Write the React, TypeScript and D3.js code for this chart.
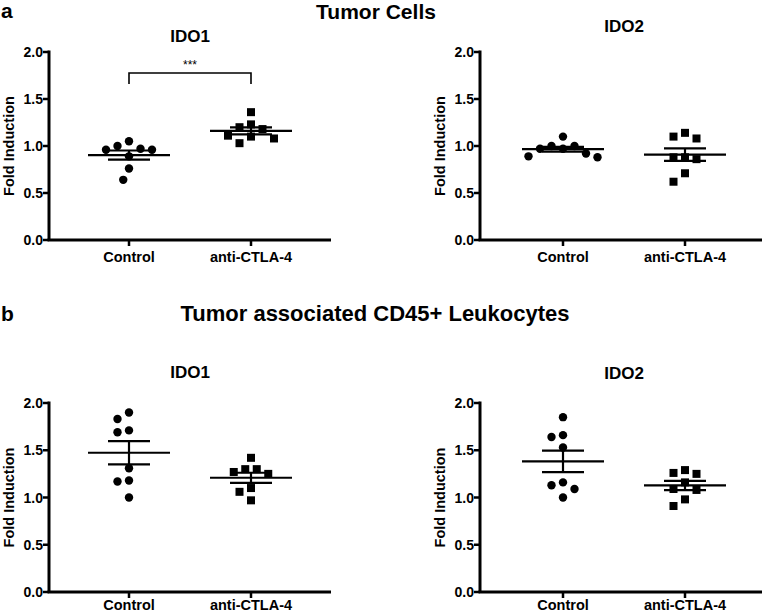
import React from 'react';
import * as d3 from 'd3';

// groups and axis ticks
const groups = ['Control', 'anti-CTLA-4'];
const yTicks = [0, 0.5, 1.0, 1.5, 2.0];

// fold induction values (8 mice per group)
const tumorIdo1Control = [1.05, 1.0, 0.96, 0.96, 0.97, 0.89, 0.76, 0.64];
const tumorIdo1Anti = [1.36, 1.2, 1.18, 1.23, 1.1, 1.03, 1.08, 1.11];
const tumorIdo2Control = [1.1, 1.0, 0.97, 0.92, 0.88, 0.89, 0.97, 1.0];
const tumorIdo2Anti = [1.14, 1.08, 1.1, 0.88, 0.86, 0.88, 0.71, 0.62];
const leukoIdo1Control = [1.9, 1.83, 1.71, 1.69, 1.31, 1.18, 1.17, 1.0];
const leukoIdo1Anti = [1.42, 1.3, 1.3, 1.25, 1.27, 1.1, 1.06, 0.97];
const leukoIdo2Control = [1.85, 1.66, 1.64, 1.53, 1.16, 1.09, 1.13, 1.0];
const leukoIdo2Anti = [1.29, 1.25, 1.26, 1.16, 1.09, 1.08, 0.98, 0.91];

const FONT = '"Liberation Sans", Arial, Helvetica, sans-serif';

const panels = [
    { key: 'a1', title: 'IDO1', ctrl: tumorIdo1Control, anti: tumorIdo1Anti, left: 49, right: 331, top: 52, bottom: 240, titleY: 42, tx: [80, 202], labelDy: 22, sig: '***' },
    { key: 'a2', title: 'IDO2', ctrl: tumorIdo2Control, anti: tumorIdo2Anti, left: 480, right: 762, top: 52, bottom: 240, titleY: 32, tx: [83, 205], labelDy: 22 },
    { key: 'b1', title: 'IDO1', ctrl: leukoIdo1Control, anti: leukoIdo1Anti, left: 49, right: 331, top: 403, bottom: 592, titleY: 378, tx: [80, 202], labelDy: 18 },
    { key: 'b2', title: 'IDO2', ctrl: leukoIdo2Control, anti: leukoIdo2Anti, left: 480, right: 762, top: 403, bottom: 592, titleY: 379, tx: [83, 205], labelDy: 18 },
];

// simple beeswarm: push points sideways in half-steps until they don't overlap
function swarm(values, yScale, minDist = 11.5, step = 5.75) {
    const placed = [];
    const offsets = new Array(values.length).fill(0);
    const order = values.map((_, i) => i).sort((a, b) => values[b] - values[a]);
    order.forEach(i => {
        const py = yScale(values[i]);
        for (let k = 0; k < 20; k++) {
            const cands = k === 0 ? [0] : [-k * step, k * step];
            const ok = cands.find(dx => placed.every(p => Math.hypot(p.dx - dx, p.py - py) >= minDist));
            if (ok !== undefined) {
                offsets[i] = ok;
                placed.push({ dx: ok, py });
                break;
            }
        }
    });
    return offsets;
}

function Panel({ p }) {
    const yScale = d3.scaleLinear().domain([0, 2]).range([p.bottom, p.top]);
    const xScale = d3.scalePoint().domain(groups).range([p.left + p.tx[0], p.left + p.tx[1]]);
    const series = [p.ctrl, p.anti];

    return (
        <g>
            <text x={(xScale(groups[0]) + xScale(groups[1])) / 2} y={p.titleY} textAnchor="middle"
                fontSize="17" fontWeight="bold" fontFamily={FONT}>{p.title}</text>

            {/* y axis */}
            <line x1={p.left} x2={p.left} y1={p.top - 1.5} y2={p.bottom} stroke="#000" strokeWidth="3" />
            {yTicks.map(t => (
                <g key={t}>
                    <line x1={p.left - 6} x2={p.left} y1={yScale(t)} y2={yScale(t)} stroke="#000" strokeWidth="2.5" />
                    <text x={p.left - 6} y={yScale(t)} dy="0.36em" textAnchor="end" fontSize="14"
                        fontWeight="bold" fontFamily={FONT}>{t.toFixed(1)}</text>
                </g>
            ))}
            <text transform={`translate(${p.left - 35}, ${(p.top + p.bottom) / 2}) rotate(-90)`}
                textAnchor="middle" fontSize="14.5" fontWeight="bold" fontFamily={FONT}>Fold Induction</text>

            {/* x axis */}
            <line x1={p.left - 1.5} x2={p.right} y1={p.bottom} y2={p.bottom} stroke="#000" strokeWidth="3" />
            {groups.map(g => (
                <g key={g}>
                    <line x1={xScale(g)} x2={xScale(g)} y1={p.bottom} y2={p.bottom + 6} stroke="#000" strokeWidth="2.5" />
                    <text x={xScale(g)} y={p.bottom + p.labelDy} textAnchor="middle" fontSize="14.5"
                        fontWeight="bold" fontFamily={FONT}>{g}</text>
                </g>
            ))}

            {/* points + mean ± SEM */}
            {series.map((vals, gi) => {
                const cx = xScale(groups[gi]);
                const offs = swarm(vals, yScale);
                const mean = d3.mean(vals);
                const sem = d3.deviation(vals) / Math.sqrt(vals.length);
                return (
                    <g key={gi}>
                        {vals.map((v, i) => gi === 0 ? (
                            <circle key={i} cx={cx + offs[i]} cy={yScale(v)} r="4.2" fill="#000" />
                        ) : (
                            <rect key={i} x={cx + offs[i] - 4} y={yScale(v) - 4} width="8" height="8" fill="#000" />
                        ))}
                        <line x1={cx - 41} x2={cx + 41} y1={yScale(mean)} y2={yScale(mean)} stroke="#000" strokeWidth="2.2" />
                        <line x1={cx - 21} x2={cx + 21} y1={yScale(mean + sem)} y2={yScale(mean + sem)} stroke="#000" strokeWidth="2.2" />
                        <line x1={cx - 21} x2={cx + 21} y1={yScale(mean - sem)} y2={yScale(mean - sem)} stroke="#000" strokeWidth="2.2" />
                        <line x1={cx} x2={cx} y1={yScale(mean + sem)} y2={yScale(mean - sem)} stroke="#000" strokeWidth="2.2" />
                    </g>
                );
            })}

            {p.sig && (
                <g>
                    <path d={`M${xScale(groups[0])},${p.top + 32} V${p.top + 21} H${xScale(groups[1])} V${p.top + 32}`}
                        fill="none" stroke="#000" strokeWidth="1.6" />
                    <text x={(xScale(groups[0]) + xScale(groups[1])) / 2} y={p.top + 17} textAnchor="middle"
                        fontSize="12" fontFamily={FONT}>{p.sig}</text>
                </g>
            )}
        </g>
    );
}

export default function App() {
    return (
        <div style={{ position: 'absolute', left: 0, top: 0, background: '#fff' }}>
            <svg width={767} height={613} style={{ display: 'block' }}>
                <rect width={767} height={613} fill="#fff" />
                <text x={1} y={18} fontSize="21" fontWeight="bold" fontFamily={FONT}>a</text>
                <text x={376} y={19} textAnchor="middle" fontSize="21" fontWeight="bold" fontFamily={FONT}>Tumor Cells</text>
                <text x={1} y={321} fontSize="21" fontWeight="bold" fontFamily={FONT}>b</text>
                <text x={375} y={321} textAnchor="middle" fontSize="22" fontWeight="bold" fontFamily={FONT}>Tumor associated CD45+ Leukocytes</text>
                {panels.map(p => <Panel key={p.key} p={p} />)}
            </svg>
        </div>
    );
}
